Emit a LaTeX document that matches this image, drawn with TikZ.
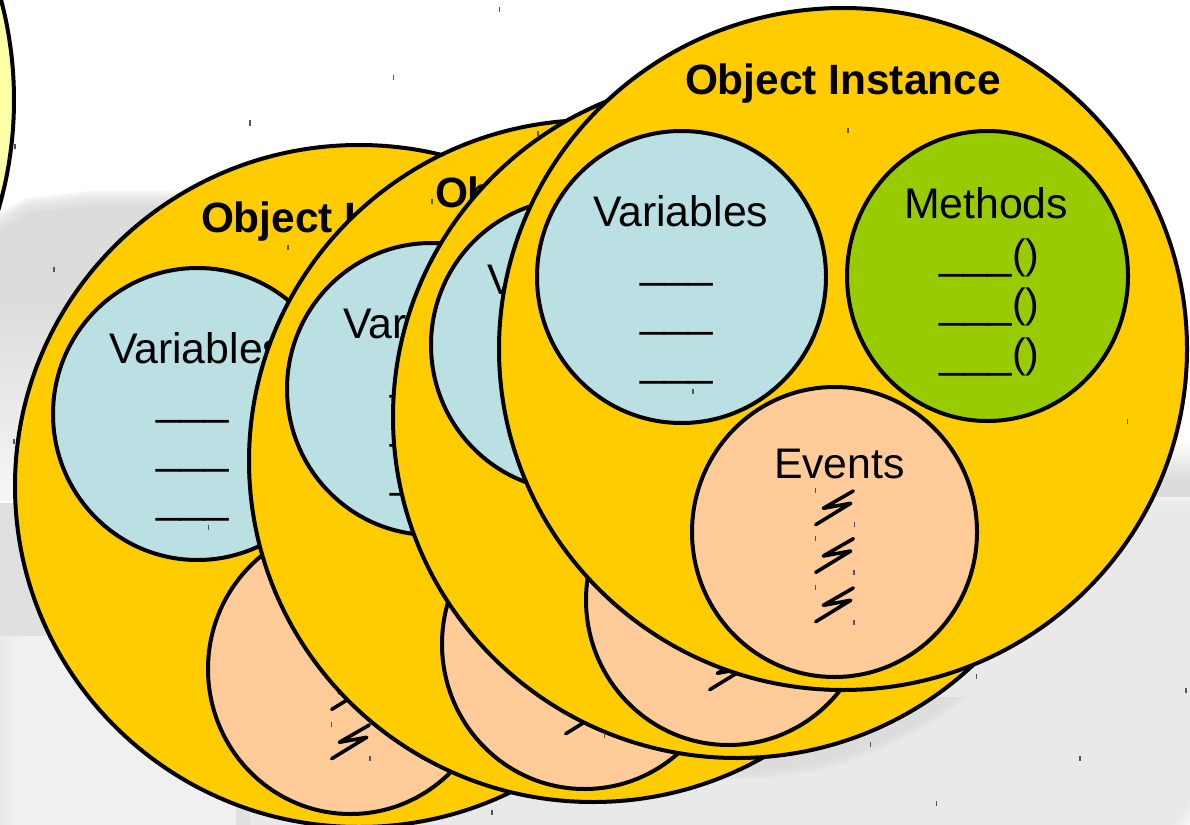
\documentclass[tikz,border=0pt]{standalone}
\usepackage{fontspec}
\setmainfont{Liberation Sans}
\usetikzlibrary{shapes.geometric}
\definecolor{objorange}{HTML}{FFCC00}
\definecolor{varblue}{HTML}{BAE0E3}
\definecolor{methgreen}{HTML}{99CC00}
\definecolor{evpeach}{HTML}{FFCC99}
\definecolor{sunyellow}{HTML}{FFFFA8}
\definecolor{greybase}{HTML}{E9E9E9}
\definecolor{greydark}{HTML}{DCDCDC}
\definecolor{greylight}{HTML}{F0F0F0}
\definecolor{greymid}{HTML}{E0E0E0}
\definecolor{tickgray}{HTML}{555555}
\tikzset{
  blob/.style={ellipse,draw=black,line width=4pt,inner sep=0pt,outer sep=0pt},
  objc/.style={blob,fill=objorange,minimum width=688pt,minimum height=682pt},
  varc/.style={blob,fill=varblue,minimum width=289pt,minimum height=292pt},
  methc/.style={blob,fill=methgreen,minimum width=281pt,minimum height=290pt},
  evc/.style={blob,fill=evpeach,minimum width=285pt,minimum height=290pt},
  lab/.style={anchor=base west,inner sep=0pt,outer sep=0pt,font=\fontsize{42.8}{48}\selectfont},
  rulelab/.style={anchor=base west,inner sep=0pt,outer sep=0pt,font=\fontsize{43.8}{48}\selectfont},
  ttl/.style={anchor=base west,inner sep=0pt,outer sep=0pt,font=\fontsize{42.4}{48}\selectfont\bfseries},
  boltline/.style={line width=3.6pt,line join=round,line cap=round},
  tickm/.style={tickgray,line width=1.4pt}
}
\newcommand{\softfill}[2]{%
  \foreach \w in {28,24,20,16,12,8,4}{%
    \draw[draw=#1,line width=\w pt,line join=round,draw opacity=0.25] #2;}
  \fill[fill=#1] #2;}
\newcommand{\objbolt}[1]{%
  \draw[boltline] (815.7,#1) -- (850.7,#1-21.4) -- (823.3,#1-16.4) -- (853.3,#1-33.7);}
\newcommand{\objcircle}[1]{\node[objc] (#1) at (843,349) {};}
\newcommand{\objtitle}[2]{\node[ttl] (#1) at (685,95) {#2};}
\newcommand{\objvars}[2]{%
  \node[varc] (#1) at (681.5,277) {};
  \node[lab] (#1t) at (593,226) {#2};}
\newcommand{\objrules}[1]{%
  \node[rulelab] (#1a) at (640,277) {\_\_\_};
  \node[rulelab] (#1b) at (640,326) {\_\_\_};
  \node[rulelab] (#1c) at (640,375) {\_\_\_};}
\newcommand{\objevents}[1]{\node[evc] (#1) at (834.5,532) {};}
\newcommand{\objbolts}{\objbolt{524.7}\objbolt{572.4}\objbolt{621.7}}
\newcommand{\methline}{\_\_\_{\fontsize{41}{48}\selectfont ()}}
\begin{document}
\begin{tikzpicture}[x=1pt,y=-1pt]
\useasboundingbox (0,0) rectangle (1190,824);
\begin{scope}
\clip (0,0) rectangle (1190,824);
% soft grey shadows
\softfill{greydark}{(-30,245) -- (30,212) -- (90,205) -- (170,205) -- (230,240) -- (230,400) -- (-30,400) -- cycle}
\shade[top color=greydark,bottom color=greylight!60!white] (-30,300) rectangle (230,500);
\fill[greymid] (-30,503) rectangle (230,636);
\fill[greylight] (-30,636) rectangle (240,830);
\shade[left color=greybase,right color=greylight] (0,636) rectangle (20,830);
\softfill{greybase}{(1215,505) -- (1215,770) -- (1165,835) -- (250,835) -- (250,620) -- (900,505) -- cycle}
\fill[greymid] (236,800) rectangle (250,830);
\begin{scope}
\clip (700,697) rectangle (1000,824);
\softfill{greydark}{(737,417) ellipse [x radius=350,y radius=348]}
\end{scope}
\shade[top color=white,bottom color=greydark] (1150,440) rectangle (1190,480);
\fill[greydark] (1150,480) rectangle (1190,497);
% yellow circle
\node[blob,fill=sunyellow,minimum size=782pt] (sun) at (-377,100) {};
% first object
\begin{scope}[shift={(-484,137)}]
\objcircle{oa}\objtitle{oat}{Object I}\objvars{oav}{Variables}\objrules{oar}\objevents{oae}\objbolts
\end{scope}
% second object
\begin{scope}[shift={(-250,112)}]
\objcircle{ob}\objtitle{obt}{Obj}\objvars{obv}{Vari}\objrules{obr}\objevents{obe}\objbolts
\end{scope}
% third object
\begin{scope}[shift={(-106,68)}]
\objcircle{oc}\objvars{ocv}{Va}\objevents{oce}\objbolts
\end{scope}
% front object
\objcircle{od}\objtitle{odt}{Object Instance}\objvars{odv}{Variables}\objrules{odr}
\node[methc] (odm) at (987.5,276) {};
\node[lab] (odmt) at (904,218) {Methods};
\node[rulelab] (odma) at (939,268) {\methline};
\node[rulelab] (odmb) at (939,317) {\methline};
\node[rulelab] (odmc) at (939,367) {\methline};
\objevents{ode}
\node[lab] (odet) at (774,478) {Events};
\objbolts
% small marks
\foreach \tx/\ty in {393.7/77.6,250/123,15/146,54/269,288/247,432/201,499.5/10,538/133,848/130,693/391,1127.7/421,
  208.7/527,331.7/724,370/758,604.5/735,492/812.6,854/622,976.7/676.7,1186/690,1080/758,870.7/744.7,936.7/803.7,
  14/441,815.7/490,854.3/524,815.7/538,854/572,815.7/587}{
  \draw[tickm] (\tx,\ty-2.5) -- (\tx,\ty+2.5);}
\end{scope}
\end{tikzpicture}
\end{document}
